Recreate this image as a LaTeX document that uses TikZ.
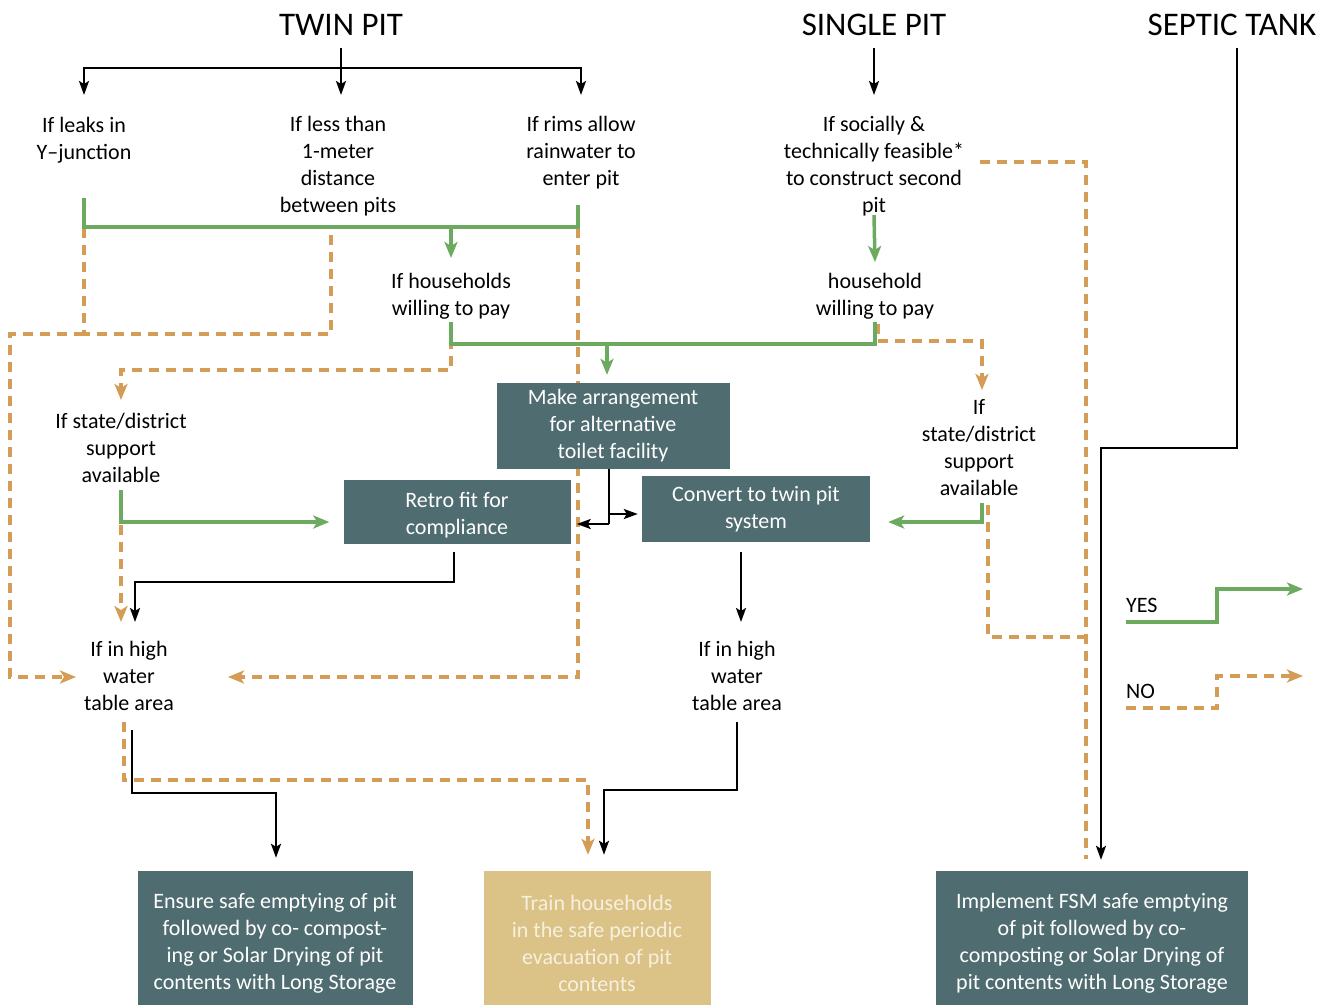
\documentclass[tikz,border=0pt]{standalone}
\usepackage{fontspec}
\setmainfont{Carlito}
\usetikzlibrary{arrows.meta,positioning,calc}
\pgfdeclarelayer{background}
\pgfsetlayers{background,main}

\definecolor{boxteal}{HTML}{4F6C71}
\definecolor{boxtan}{HTML}{DBC388}
\definecolor{yesgreen}{HTML}{6BAA5F}
\definecolor{nobrown}{HTML}{D49C55}
\definecolor{tantext}{HTML}{F7F0DF}

\tikzstyle{block} = [rectangle, fill=boxteal, text=white, align=center, inner sep=0pt, font=\fontsize{22}{27}\selectfont]
\tikzstyle{cond} = [align=center, inner sep=0pt, font=\fontsize{22}{27}\selectfont]
\tikzstyle{title} = [inner sep=0pt, font=\fontsize{33}{36}\selectfont]
\tikzstyle{blkline} = [line width=2.4pt]
\tikzstyle{blk} = [blkline, -{Stealth[length=14pt,width=10pt,inset=3pt]}]
\tikzstyle{yesline} = [draw=yesgreen, line width=3.5pt]
\tikzstyle{yes} = [yesline, -{Stealth[length=16pt,width=13pt,inset=4pt]}, yesgreen]
\tikzstyle{noline} = [draw=nobrown, line width=3.5pt, dash pattern=on 10pt off 7pt]
\tikzstyle{no} = [noline, -{Stealth[length=16pt,width=13pt,inset=4pt]}, nobrown]

\begin{document}
\begin{tikzpicture}[x=1pt, y=-1pt]
\useasboundingbox (0,0) rectangle (1334,1005);
% Titles
\node [title] (twin) at (341,25) {TWIN PIT};
\node [title] (single) at (874,25) {SINGLE PIT};
\node [title] (septic) at (1232,25) {SEPTIC TANK};
% Conditions
\node [cond] (ylk) at (84,140) {If leaks in\\Y–junction};
\node [cond] (lessm) at (338,166) {If less than\\1-meter\\distance\\between pits};
\node [cond] (rims) at (581,153) {If rims allow\\rainwater to\\enter pit};
\node [cond] (social) at (874,166) {If socially \&\\technically feasible*\\to construct second\\pit};
\node [cond] (hhw) at (451,296) {If households\\willing to pay};
\node [cond] (hhs) at (875,296) {household\\willing to pay};
\node [cond] (supL) at (121,448) {If state/district\\support\\available};
\node [cond] (supR) at (979,448) {If\\state/district\\support\\available};
\node [cond] (hwL) at (129,676) {If in high\\water\\table area};
\node [cond] (hwR) at (737,676) {If in high\\water\\table area};
% Boxes
\node [block, minimum width=233pt, minimum height=86pt] (mka) at (613,426) {Make arrangement\\for alternative\\toilet facility};
\node [block, minimum width=227pt, minimum height=64pt] (retro) at (457,512) {\rule{0pt}{22pt}Retro fit for\\compliance};
\node [block, minimum width=228pt, minimum height=66pt] (conv) at (756,509) {Convert to twin pit\\system};
\node [block, minimum width=275pt, minimum height=134pt] (ensure) at (275,938) {\rule{0pt}{26pt}Ensure safe emptying of pit\\followed by co- compost-\\ing or Solar Drying of pit\\contents with Long Storage};
\node [block, fill=boxtan, text=tantext, minimum width=227pt, minimum height=134pt] (train) at (597,938) {\rule{0pt}{26pt}Train households\\in the safe periodic\\evacuation of pit\\contents};
\node [block, minimum width=312pt, minimum height=134pt] (impl) at (1092,938) {\rule{0pt}{26pt}Implement FSM safe emptying\\of pit followed by co-\\composting or Solar Drying of\\pit contents with Long Storage};
% Legend
\node [cond, anchor=west] (yeslbl) at (1126,605) {YES};
\node [cond, anchor=west] (nolbl) at (1126,691) {NO};
\coordinate (yesend) at (1303,589);
\coordinate (noend) at (1303,676);
\coordinate (lft) at (10,334);

% Paths
\begin{pgfonlayer}{background}
\draw[blk] (twin |- 0,48) -- (twin |- 0,95);
\draw[blk] (twin |- 0,68) -| (ylk |- 0,95);
\draw[blk] (twin |- 0,68) -| (rims |- 0,95);
\draw[blk] (single |- 0,48) -- (single |- 0,95);
\draw[blk] ($(septic |- 0,48)+(5,0)$) |- ($(impl.north |- 0,448)+(9,0)$) -- ($(impl.north)+(9,-11)$);

% no
\draw[noline] (ylk |- 0,228) -- (ylk |- 0,334) -| ($(lessm |- 0,228)+(-7,0)$);
\draw[no] (ylk |- 0,334) -- (lft) |- ($(hwL.west |- 0,677)+(-8,0)$);
\draw[no] (hhw |- 0,322) -- (hhw |- 0,370) -| (supL |- 0,400);
\draw[no] ($(rims |- 0,228)+(-3,0)$) -- ($(rims |- 0,677)+(-3,0)$) -- ($(hwL |- 0,677)+(99,0)$);
\draw[no] (supL |- 0,525) -- (supL |- 0,622);
\draw[no] ($(hwL |- 0,722)+(-5,0)$) |- ($(train.north)+(-9,-91)$) -- ($(train.north)+(-9,-16)$);
\draw[no] ($(hhs |- 0,324)+(3,0)$) |- ($(supR |- 0,341)+(3,0)$) -- ($(supR |- 0,390)+(3,0)$);
\draw[noline] ($(social.east |- 0,162)+(16,0)$) -| ($(impl.north)+(-6,-12)$);
\draw[noline] ($(supR |- 0,505)+(9,0)$) |- ($(impl.north |- 0,637)+(-6,0)$);
\draw[no] (nolbl.west |- 0,708) -| ($(noend)+(-86,0)$) -- (noend);

% yes
\draw[yesline] (ylk |- 0,198) |- ($(rims |- 0,227)+(-3,0)$) -- ($(rims |- 0,205)+(-3,0)$);
\draw[yes] (hhw |- 0,227) -- (hhw |- 0,258);
\draw[yesline] (hhw |- 0,322) |- (hhs |- 0,344) -- (hhs |- 0,322);
\draw[yes] ($(mka.north |- 0,344)+(-6,0)$) -- ($(mka.north)+(-6,-8)$);
\draw[yes] (social |- 0,215) -- (hhs |- 0,262);
\draw[yes] (supL |- 0,490) |- ($(retro.west |- 0,522)+(-14,0)$);
\draw[yes] ($(supR |- 0,503)+(3,0)$) |- ($(conv.east |- 0,522)+(18,0)$);
\draw[yes] (yeslbl.west |- 0,622) -| ($(yesend)+(-86,0)$) -- (yesend);

% black
\draw[blk] ($(retro.south)+(-3,8)$) -- ($(retro.south |- 0,582)+(-3,0)$) -| ($(hwL |- 0,622)+(6,0)$);
\draw[blkline] ($(mka.south)+(-4,0)$) -- ($(mka.south |- 0,524)+(-4,0)$);
\draw[blk] ($(mka.south |- 0,524)+(-4,0)$) -- ($(retro.east |- 0,524)+(6,0)$);
\draw[blk] ($(mka.south |- 0,514)+(-4,0)$) -- ($(conv.west |- 0,514)+(-4,0)$);
\draw[blk] ($(conv.south)+(-15,10)$) -- ($(hwR |- 0,622)+(4,0)$);
\draw[blk] ($(hwL |- 0,730)+(3,0)$) -- ($(hwL |- 0,793)+(3,0)$) -| ($(ensure.north)+(1,-13)$);
\draw[blk] (hwR |- 0,722) -- (hwR |- 0,790) -| ($(train.north)+(7,-16)$);
\end{pgfonlayer}
\end{tikzpicture}
\end{document}
